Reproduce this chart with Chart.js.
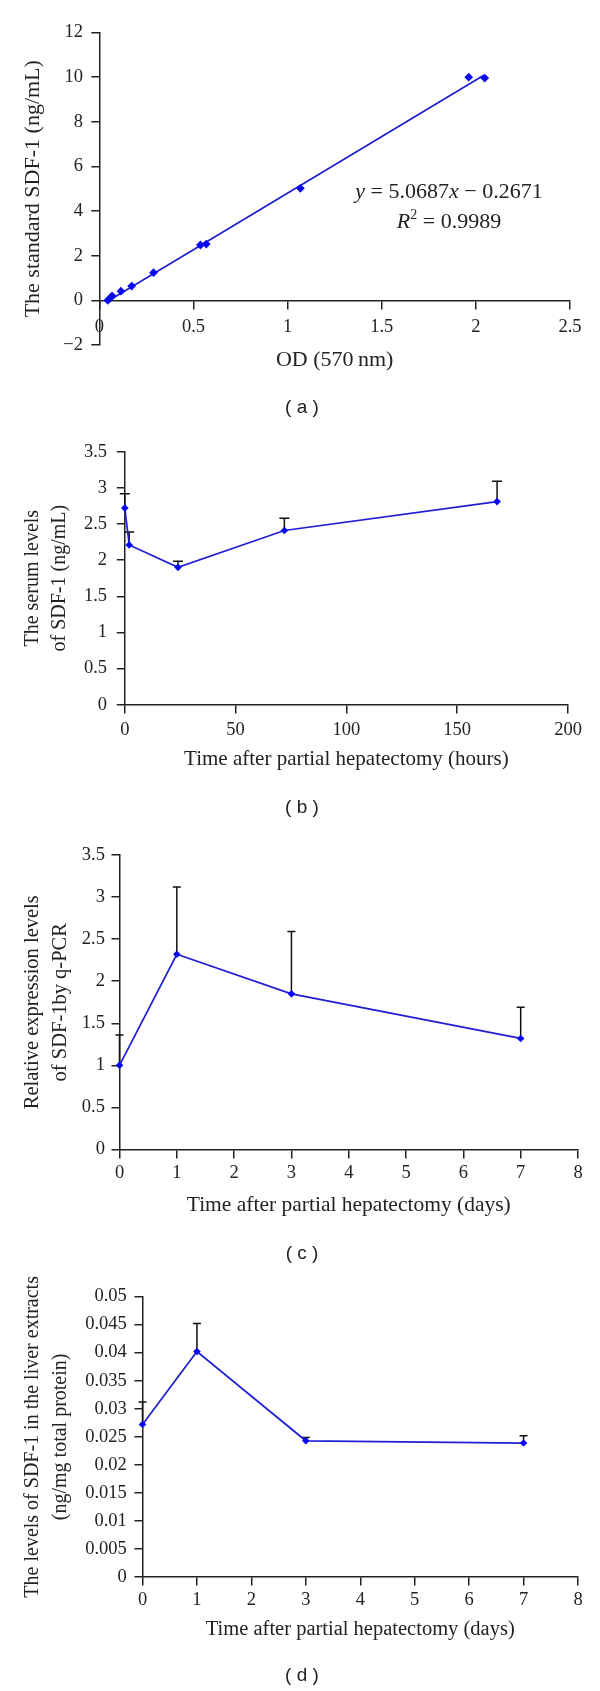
<!DOCTYPE html>
<html><head><meta charset="utf-8">
<script src="https://cdn.jsdelivr.net/npm/chart.js@4.4.1/dist/chart.umd.min.js"></script>
<style>
html,body{margin:0;padding:0;background:#fff;}
#wrap{position:relative;width:600px;height:1691px;overflow:hidden;background:#fff;}
canvas{position:absolute;left:0;}
.lbl{position:absolute;font-family:"Liberation Sans",Arial,sans-serif;font-size:19px;color:#222;transform:translate(-50%,-50%);white-space:pre;}
.eq{position:absolute;font-family:"Liberation Serif","Times New Roman",serif;font-size:22px;color:#222;transform:translate(-50%,-50%);white-space:nowrap;line-height:1;}
.eq sup{font-size:14px;line-height:0;vertical-align:9px;}
</style></head><body>
<div id="wrap">
<canvas id="ca" width="600" height="420" style="top:0px"></canvas>
<canvas id="cb" width="600" height="410" style="top:420px"></canvas>
<canvas id="cc" width="600" height="440" style="top:830px"></canvas>
<canvas id="cd" width="600" height="421" style="top:1270px"></canvas>
<div class="eq" style="left:449px;top:191px"><i>y</i> = 5.0687<i>x</i> − 0.2671</div>
<div class="eq" style="left:449px;top:221px"><i>R</i><sup>2</sup> = 0.9989</div>
<div class="lbl" style="left:302px;top:407px">( a )</div>
<div class="lbl" style="left:302px;top:807px">( b )</div>
<div class="lbl" style="left:302px;top:1253px">( c )</div>
<div class="lbl" style="left:302px;top:1675px">( d )</div>
</div>
<script>
// ---------- data ----------
// (a) standard curve
const aOD   = [0.045, 0.058, 0.068, 0.115, 0.172, 0.288, 0.537, 0.568, 1.068, 1.962, 2.047];
const aConc = [0.00, 0.10, 0.20, 0.41, 0.64, 1.24, 2.48, 2.52, 5.02, 10.00, 9.96];
const aTrendX = [0.04, 2.04];
const aTrendY = [-0.06, 10.07];
const aXTicks = [0, 0.5, 1, 1.5, 2, 2.5];
const aYTicks = [-2, 0, 2, 4, 6, 8, 10, 12];
// (b) serum levels
const bHours  = [0, 2, 24, 72, 168];
const bLevels = [2.72, 2.21, 1.90, 2.41, 2.81];
const bErr    = [0.20, 0.18, 0.085, 0.17, 0.28];
const bXTicks = [0, 50, 100, 150, 200];
const bYTicks = [0, 0.5, 1, 1.5, 2, 2.5, 3, 3.5];
// (c) q-PCR
const cDays   = [0, 1, 3, 7];
const cLevels = [1.00, 2.32, 1.85, 1.32];
const cErr    = [0.36, 0.80, 0.74, 0.37];
const cXTicks = [0, 1, 2, 3, 4, 5, 6, 7, 8];
const cYTicks = [0, 0.5, 1, 1.5, 2, 2.5, 3, 3.5];
// (d) liver extracts
const dDays   = [0, 1, 3, 7];
const dLevels = [0.0272, 0.0402, 0.0243, 0.0239];
const dErr    = [0.0040, 0.0050, 0.0006, 0.0013];
const dXTicks = [0, 1, 2, 3, 4, 5, 6, 7, 8];
const dYTicks = [0, 0.005, 0.01, 0.015, 0.02, 0.025, 0.03, 0.035, 0.04, 0.045, 0.05];

// ---------- styling ----------
const SERIF = "'Liberation Serif', 'Times New Roman', serif";
const INK = '#222';
const LINE = '#1e1ed2';
const PT = '#0808f0';

const fmt = v => String(parseFloat(Number(v).toFixed(6))).replace('-', '\u2212');
const pts = (xs, ys) => xs.map((x, i) => ({x: x, y: ys[i]}));

function errPlugin(xs, ys, es, cap) {
  return {
    id: 'errbars',
    beforeDatasetsDraw(chart) {
      if (!xs) return;
      const {ctx} = chart;
      const sx = chart.scales.x, sy = chart.scales.y;
      ctx.save();
      ctx.strokeStyle = '#111';
      ctx.lineWidth = 1.5;
      xs.forEach((xv, i) => {
        const px = sx.getPixelForValue(xv);
        const p0 = sy.getPixelForValue(ys[i]);
        const p1 = sy.getPixelForValue(ys[i] + es[i]);
        ctx.beginPath();
        ctx.moveTo(px, p0); ctx.lineTo(px, p1);
        ctx.moveTo(px - cap / 2, p1); ctx.lineTo(px + cap / 2, p1);
        ctx.stroke();
      });
      ctx.restore();
    }
  };
}

function panel(id, c) {
  const canvas = document.getElementById(id);
  const H = canvas.height;
  const tickFont = {family: SERIF, size: c.tickSize};
  return new Chart(canvas, {
    type: 'scatter',
    data: {datasets: c.datasets},
    options: {
      responsive: false, animation: false, devicePixelRatio: 1,
      layout: {padding: {left: 0, top: c.top, right: 600 - c.right, bottom: H - c.bottom}},
      plugins: {legend: {display: false}, tooltip: {enabled: false}},
      scales: {
        x: {
          type: 'linear', position: {y: c.xAxisAt},
          min: c.xTicks[0], max: c.xTicks[c.xTicks.length - 1],
          afterBuildTicks: s => { s.ticks = c.xTicks.map(v => ({value: v})); },
          ticks: {font: tickFont, color: INK, padding: c.xPad, maxRotation: 0, autoSkip: false, callback: fmt},
          grid: {display: true, drawOnChartArea: false, drawTicks: true, tickLength: 8, color: INK, lineWidth: 1.5},
          border: {display: true, color: INK, width: 1.5},
          title: {display: true, text: c.xTitle, color: INK,
                  font: {family: SERIF, size: c.xTitleSize, lineHeight: 1.2},
                  padding: {top: c.xTitlePad, bottom: 0}}
        },
        y: {
          type: 'linear', position: 'left',
          min: c.yTicks[0], max: c.yTicks[c.yTicks.length - 1],
          afterBuildTicks: s => { s.ticks = c.yTicks.map(v => ({value: v})); },
          afterFit: s => { s.width = c.left; },
          ticks: {font: tickFont, color: INK, padding: c.yPad, autoSkip: false, callback: fmt},
          grid: {display: true, drawOnChartArea: false, drawTicks: true, tickLength: 8, color: INK, lineWidth: 1.5},
          border: {display: true, color: INK, width: 1.5},
          title: {display: true, text: c.yTitle, color: INK,
                  font: {family: SERIF, size: c.yTitleSize, lineHeight: c.yTitleLH},
                  padding: {top: c.yTitlePad, bottom: 0}}
        }
      }
    },
    plugins: [errPlugin(c.errX, c.errY, c.errE, c.cap)]
  });
}

function seriesDataset(xs, ys) {
  return {
    data: pts(xs, ys), showLine: true, borderColor: LINE, borderWidth: 1.7,
    pointStyle: 'rectRot', pointRadius: 3.8, pointBackgroundColor: PT, pointBorderColor: PT,
    pointBorderWidth: 0, clip: false, tension: 0
  };
}

// (a)
panel('ca', {
  left: 99.3, right: 570, top: 32.5, bottom: 345,
  xTicks: aXTicks, yTicks: aYTicks, xAxisAt: 0,
  tickSize: 18.5, xPad: 7.9, yPad: 8.3,
  xTitle: 'OD (570\u2009nm)', xTitleSize: 22, xTitlePad: 0.8,
  yTitle: 'The standard SDF-1 (ng/mL)', yTitleSize: 22, yTitleLH: 1.2, yTitlePad: 19.8,
  datasets: [
    {data: pts(aOD, aConc), showLine: false, pointStyle: 'rectRot', pointRadius: 4.4,
     pointBackgroundColor: PT, pointBorderColor: PT, pointBorderWidth: 0, clip: false},
    {data: pts(aTrendX, aTrendY), showLine: true, pointRadius: 0, borderColor: LINE, borderWidth: 1.7, clip: false}
  ]
});

// (b)
panel('cb', {
  left: 124.8, right: 568, top: 31.7, bottom: 284.7,
  xTicks: bXTicks, yTicks: bYTicks, xAxisAt: 0,
  tickSize: 18.5, xPad: 6.2, yPad: 9.8,
  xTitle: 'Time after partial hepatectomy (hours)', xTitleSize: 21, xTitlePad: 0,
  yTitle: ['The serum levels', 'of SDF-1 (ng/mL)'], yTitleSize: 20, yTitleLH: 1.35, yTitlePad: 19.5,
  errX: bHours, errY: bLevels, errE: bErr, cap: 10,
  datasets: [seriesDataset(bHours, bLevels)]
});

// (c)
panel('cc', {
  left: 119.5, right: 578, top: 25, bottom: 319.5,
  xTicks: cXTicks, yTicks: cYTicks, xAxisAt: 0,
  tickSize: 18.5, xPad: 4.4, yPad: 6.6,
  xTitle: 'Time after partial hepatectomy (days)', xTitleSize: 21.5, xTitlePad: 3.6,
  yTitle: ['Relative expression levels', 'of SDF-1by q-PCR'], yTitleSize: 20.5, yTitleLH: 1.33, yTitlePad: 19.3,
  errX: cDays, errY: cLevels, errE: cErr, cap: 8,
  datasets: [seriesDataset(cDays, cLevels)]
});

// (d)
panel('cd', {
  left: 142.5, right: 578, top: 26.5, bottom: 307.2,
  xTicks: dXTicks, yTicks: dYTicks, xAxisAt: 0,
  tickSize: 18.5, xPad: 3.7, yPad: 7.7,
  xTitle: 'Time after partial hepatectomy (days)', xTitleSize: 20.5, xTitlePad: 2.6,
  yTitle: ['The levels of SDF-1 in the liver extracts', '(ng/mg total protein)'], yTitleSize: 20, yTitleLH: 1.4, yTitlePad: 19,
  errX: dDays, errY: dLevels, errE: dErr, cap: 8,
  datasets: [seriesDataset(dDays, dLevels)]
});
</script>
</body></html>
